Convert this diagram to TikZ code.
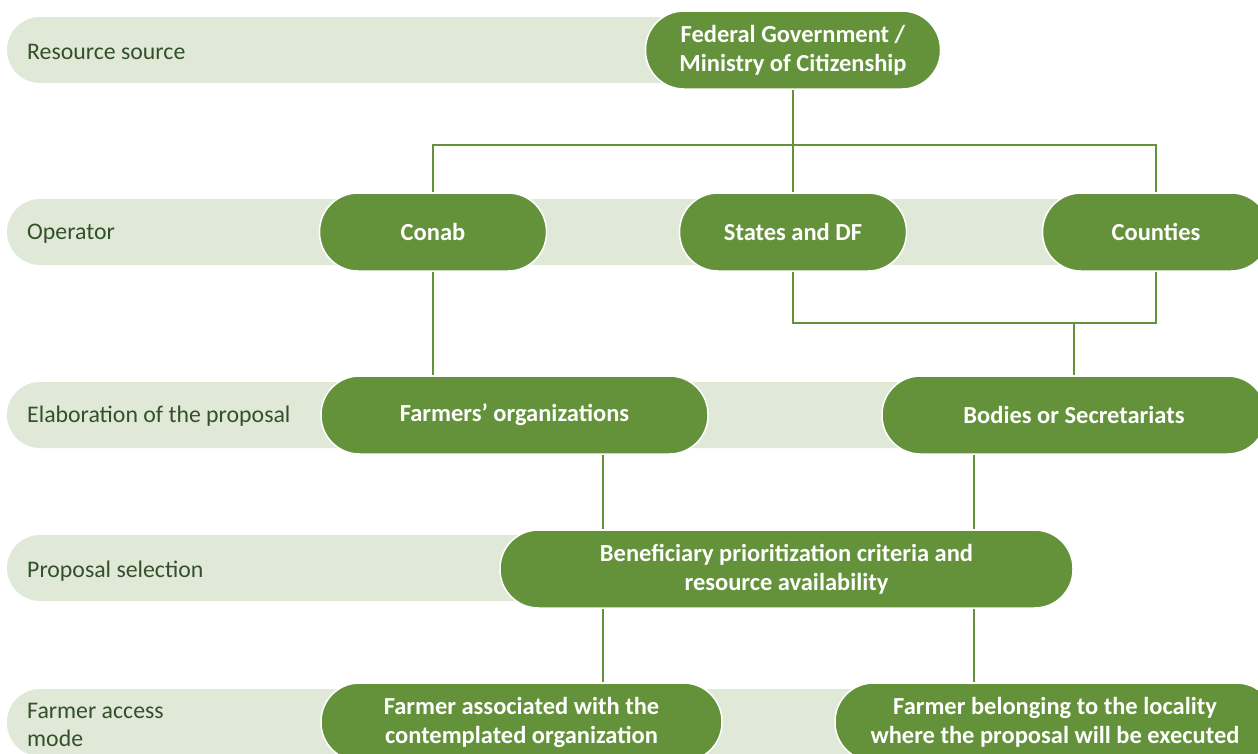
\documentclass[tikz,border=0pt]{standalone}
\usepackage{fontspec}
\setmainfont{Carlito}
\usetikzlibrary{calc}
\definecolor{dg}{HTML}{64923A}
\definecolor{lg}{HTML}{E0E9D8}
\definecolor{lbl}{HTML}{33502A}
\pgfdeclarelayer{bg}\pgfdeclarelayer{mid}\pgfsetlayers{bg,mid,main}
\begin{document}
\begin{tikzpicture}[x=1pt,y=-1pt,
  box/.style={draw=white, line width=1.5pt, fill=dg, rounded corners=38.5pt, minimum height=78pt, text=white, font=\fontsize{24.5}{29}\selectfont\bfseries, align=center, inner sep=0pt},
  band/.style={fill=lg, rounded corners=33pt},
  lab/.style={anchor=west, text=lbl, font=\fontsize{23.8}{28.5}\selectfont, align=left, inner sep=0pt},
  conn/.style={draw=dg, line width=2.5pt}]
\useasboundingbox (0,0) rectangle (1258,753);
\node[box, minimum width=295] (fed) at (793,50) {Federal Government /\\Ministry of Citizenship};
\node[box, minimum width=227] (conab) at (433,232) {Conab};
\node[box, minimum width=227] (states) at (793,232) {States and DF};
\node[box, minimum width=227] (counties) at (1156,232) {Counties};
\node[box, minimum width=387] (farmers) at (514.5,415) {Farmers’ organizations};
\node[box, minimum width=384] (bodies) at (1074,415) {Bodies or Secretariats};
\node[box, minimum width=573] (benef) at (786.5,569) {Beneficiary prioritization criteria and\\resource availability};
\node[box, minimum width=401] (assoc) at (521.5,722) {Farmer associated with the\\contemplated organization};
\node[box, minimum width=440] (belong) at (1055,722) {Farmer belonging to the locality\\where the proposal will be executed};
\node[lab] (l1) at (27,52) {Resource source};
\node[lab] (l2) at (27,234) {Operator};
\node[lab] (l3) at (27,416) {Elaboration of the proposal};
\node[lab] (l4) at (27,571) {Proposal selection};
\node[lab] (l5) at (27,725) {Farmer access\\mode};
\begin{pgfonlayer}{bg}
\fill[band] (7,17) rectangle (700,83);
\fill[band] (7,199) rectangle (1100,265);
\fill[band] (7,382) rectangle (1000,448);
\fill[band] (7,535) rectangle (560,601);
\fill[band] (7,689) rectangle (900,756);
\end{pgfonlayer}
\begin{pgfonlayer}{mid}
\coordinate (j1) at (793,145);
\coordinate (j2) at (1074,323);
\coordinate (xa) at (603,0);
\coordinate (xb) at (974,0);
\draw[conn] (fed.south) -- (states.north);
\draw[conn] (conab.north) |- (j1) -| (counties.north);
\draw[conn] (states.south) |- (j2) -| (counties.south);
\draw[conn] (j2) -- (bodies.north);
\draw[conn] (conab.south) -- (conab.south |- farmers.north);
\draw[conn] (farmers.south -| xa) -- (benef.north -| xa);
\draw[conn] (bodies.south -| xb) -- (benef.north -| xb);
\draw[conn] (benef.south -| xa) -- (assoc.north -| xa);
\draw[conn] (benef.south -| xb) -- (belong.north -| xb);
\end{pgfonlayer}
\end{tikzpicture}
\end{document}
